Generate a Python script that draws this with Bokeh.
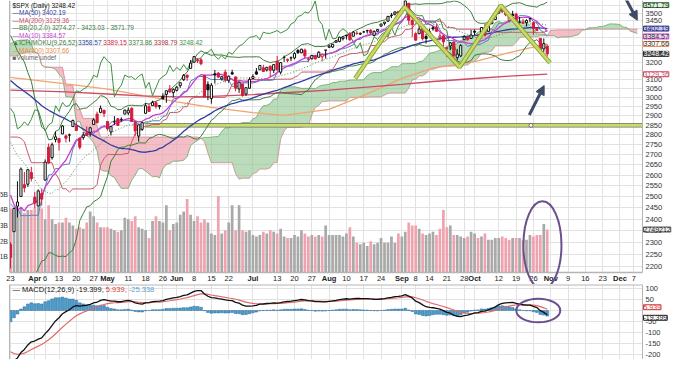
import numpy as np
import pandas as pd
from bokeh.plotting import figure
from bokeh.layouts import column
from bokeh.models import (Range1d, LinearScale, FixedTicker, Label, Arrow, NormalHead)
from bokeh.core.properties import value
from bokeh.embed import file_html
from bokeh.resources import INLINE

FONT = "Liberation Sans"

# ---------------- data ----------------
# $SPX closes before the visible window (Nov 18 2019 - Mar 20 2020), used by the indicators
pre_close = [3122, 3120, 3108, 3104, 3110, 3133, 3140, 3154, 3141,
             3113, 3093, 3113, 3117, 3146, 3136, 3133, 3142, 3169, 3169, 3191, 3192, 3191, 3206, 3221,
             3224, 3223, 3240, 3240, 3221, 3231,
             3258, 3235, 3246, 3237, 3253, 3275, 3265, 3289, 3283, 3289, 3317, 3330, 3321, 3321, 3326,
             3295, 3243, 3276, 3273, 3284, 3226,
             3249, 3298, 3334, 3345, 3328, 3352, 3358, 3379, 3374, 3380, 3370, 3386, 3373, 3338, 3226,
             3128, 3116, 2979, 2954,
             3090, 3003, 3130, 3024, 2972, 2747, 2882, 2741, 2481, 2711, 2386, 2529, 2398, 2409, 2305]

# visible daily candles, Mar 23 - Oct 30 2020
open_ = [2291, 2345, 2457, 2501, 2556, 2558, 2614,
         2498, 2458, 2515, 2578, 2738, 2686, 2776, 2782, 2805, 2795, 2799, 2843, 2846, 2784, 2787, 2810, 2813, 2854, 2909, 2918, 2930,
         2870, 2815, 2868, 2884, 2879, 2909, 2915, 2940, 2865, 2794, 2829, 2913, 2948, 2954, 2970, 2949, 3005, 3016, 3046, 3026,
         3038, 3064, 3098, 3123, 3163, 3199, 3213, 3213, 3123, 3072, 2993, 3131, 3136, 3102, 3141, 3095, 3138, 3114, 3046, 3074, 3018, 3050,
         3105, 3143, 3155, 3166, 3154, 3176, 3152, 3205, 3141, 3226, 3209, 3224, 3224, 3268, 3255, 3271, 3218, 3219, 3235, 3228, 3231, 3270,
         3288, 3289, 3318, 3323, 3340, 3357, 3370, 3355, 3372, 3368, 3381, 3388, 3392, 3360, 3386, 3418, 3435, 3449, 3486, 3494, 3509,
         3507, 3543, 3564, 3453, 3371, 3370, 3413, 3353, 3364, 3407, 3411, 3347, 3357, 3285, 3296, 3320, 3226, 3236, 3334, 3350, 3341,
         3386, 3339, 3368, 3409, 3385, 3434, 3459, 3500, 3534, 3515, 3453, 3493, 3494, 3439, 3440, 3439, 3464, 3441, 3404, 3342, 3278, 3294]
high = [2300, 2449, 2572, 2638, 2616, 2631, 2641,
        2522, 2534, 2538, 2677, 2756, 2761, 2818, 2782, 2851, 2801, 2807, 2880, 2868, 2785, 2815, 2844, 2842, 2887, 2922, 2955, 2930,
        2870, 2845, 2898, 2888, 2892, 2933, 2945, 2945, 2874, 2853, 2865, 2968, 2965, 2981, 2978, 2957, 3022, 3036, 3068, 3049,
        3063, 3081, 3131, 3129, 3212, 3233, 3223, 3223, 3124, 3089, 3079, 3154, 3141, 3120, 3156, 3121, 3155, 3115, 3086, 3074, 3054, 3112,
        3129, 3165, 3182, 3184, 3172, 3179, 3187, 3236, 3200, 3238, 3221, 3233, 3258, 3277, 3279, 3280, 3227, 3241, 3243, 3264, 3250, 3272,
        3303, 3307, 3331, 3352, 3352, 3364, 3381, 3387, 3387, 3378, 3388, 3395, 3399, 3391, 3399, 3432, 3444, 3482, 3501, 3510, 3514,
        3528, 3588, 3564, 3479, 3379, 3425, 3425, 3369, 3402, 3419, 3428, 3376, 3362, 3285, 3320, 3324, 3278, 3306, 3361, 3358, 3394,
        3397, 3370, 3409, 3432, 3426, 3447, 3483, 3549, 3534, 3527, 3489, 3515, 3502, 3476, 3464, 3461, 3466, 3441, 3409, 3343, 3342, 3305]
low = [2192, 2345, 2407, 2500, 2520, 2545, 2571,
       2447, 2455, 2459, 2575, 2657, 2676, 2762, 2721, 2805, 2761, 2765, 2842, 2820, 2727, 2775, 2794, 2791, 2854, 2860, 2913, 2893,
       2822, 2797, 2852, 2847, 2869, 2908, 2903, 2869, 2793, 2766, 2820, 2913, 2922, 2954, 2938, 2934, 2987, 2970, 3024, 2999,
       3032, 3052, 3091, 3091, 3164, 3196, 3194, 3181, 2999, 2984, 2965, 3076, 3109, 3093, 3083, 3081, 3125, 3033, 3024, 3004, 3007, 3047,
       3101, 3125, 3155, 3142, 3145, 3115, 3136, 3150, 3128, 3201, 3198, 3205, 3216, 3248, 3253, 3221, 3201, 3215, 3216, 3227, 3205, 3220,
       3285, 3284, 3317, 3318, 3329, 3335, 3327, 3355, 3363, 3362, 3379, 3371, 3369, 3354, 3380, 3413, 3422, 3444, 3468, 3485, 3494,
       3494, 3536, 3427, 3350, 3329, 3369, 3329, 3310, 3364, 3389, 3385, 3328, 3292, 3229, 3271, 3232, 3209, 3229, 3333, 3327, 3340,
       3362, 3324, 3367, 3354, 3385, 3428, 3458, 3499, 3500, 3480, 3441, 3483, 3419, 3435, 3433, 3415, 3441, 3364, 3388, 3269, 3259, 3233]
close = [2237, 2447, 2476, 2630, 2541, 2627, 2585,
         2471, 2527, 2489, 2664, 2659, 2750, 2790, 2762, 2846, 2783, 2800, 2875, 2823, 2737, 2799, 2798, 2837, 2878, 2863, 2940, 2912,
         2831, 2843, 2868, 2849, 2881, 2930, 2930, 2870, 2820, 2852, 2864, 2954, 2923, 2972, 2949, 2955, 2992, 3036, 3030, 3044,
         3056, 3081, 3123, 3112, 3194, 3232, 3207, 3190, 3002, 3041, 3067, 3125, 3113, 3115, 3098, 3118, 3131, 3050, 3084, 3009, 3053, 3100,
         3116, 3130, 3180, 3145, 3169, 3152, 3185, 3155, 3197, 3227, 3216, 3225, 3251, 3257, 3276, 3236, 3216, 3239, 3218, 3258, 3246, 3271,
         3295, 3306, 3327, 3349, 3351, 3360, 3333, 3380, 3373, 3373, 3381, 3390, 3375, 3385, 3397, 3431, 3443, 3479, 3485, 3508, 3500,
         3527, 3580, 3455, 3427, 3331, 3399, 3340, 3341, 3383, 3401, 3385, 3357, 3320, 3281, 3315, 3237, 3247, 3298, 3351, 3335, 3363,
         3380, 3348, 3409, 3361, 3419, 3447, 3477, 3535, 3512, 3489, 3483, 3484, 3427, 3443, 3436, 3453, 3465, 3401, 3391, 3271, 3310, 3248.42]
# volume, billions of shares
volume_b = [4.1, 4.0, 4.0, 4.1, 3.8, 4.0, 4.0, 4.1, 4.2, 4.1,
            3.4, 4.3, 3.4, 3.1, 3.2, 3.2, 3.5, 3.2, 3.0, 2.8,
            2.9, 2.8, 3.2, 3.9, 3.6, 3.2, 2.9, 2.9, 2.9, 2.8,
            2.7, 2.6, 2.7, 3.5, 3.4, 3.3, 3.6, 2.9, 2.8, 2.7,
            2.2, 3.3, 3.6, 3.3, 3.2, 4.3, 2.7, 3.1, 3.2, 3.7,
            3.9, 4.7, 3.7, 3.3, 3.6, 3.2, 3.4, 3.2, 2.5, 2.4,
            4.9, 2.5, 2.7, 3.2, 4.3, 2.7, 4.3, 2.7, 2.6, 2.7,
            2.4, 2.3, 2.4, 2.6, 2.5, 2.7, 2.6, 2.5, 2.8, 2.3,
            2.2, 2.2, 2.4, 2.3, 2.7, 2.5, 2.3, 2.4, 2.3, 2.4,
            2.3, 3.0, 2.4, 2.4, 2.4, 2.4, 2.3, 2.5, 2.9, 2.3,
            1.9, 1.8, 1.9, 1.7, 2.0, 1.8, 1.9, 2.2, 1.9, 1.9,
            2.3, 1.9, 2.5, 2.3, 2.6, 3.2, 3.0, 3.0, 2.8, 2.5,
            2.4, 2.5, 2.6, 2.4, 2.8, 4.0, 2.9, 3.0, 2.4, 2.4,
            2.3, 2.2, 2.3, 2.6, 2.5, 2.2, 2.3, 2.5, 2.1, 2.1,
            2.2, 2.2, 2.3, 2.2, 2.1, 2.2, 2.2, 2.2, 2.1, 2.1,
            2.4, 2.3, 2.4, 2.4, 3.1, 2.749]
# long moving averages
ma_dates = ["2020-03-23", "2020-04-15", "2020-05-01", "2020-05-15", "2020-06-01", "2020-06-15", "2020-07-01",
            "2020-07-15", "2020-08-03", "2020-08-17", "2020-09-01", "2020-09-15", "2020-10-01", "2020-10-15", "2020-10-30"]
ma200_vals = [3040, 3030, 3018, 3008, 3002, 3005, 3015, 3025, 3040, 3055, 3072, 3088, 3105, 3118, 3129.36]
ma100_vals = [3111, 3075, 3045, 3010, 2975, 2945, 2917, 2902, 2934, 3010, 3106, 3165, 3202, 3256, 3307.66]

tick_dates = ["2020-03-23", "2020-04-01", "2020-04-06", "2020-04-13", "2020-04-20", "2020-04-27", "2020-05-01",
              "2020-05-11", "2020-05-18", "2020-05-26", "2020-06-01", "2020-06-08", "2020-06-15", "2020-06-22",
              "2020-07-01", "2020-07-13", "2020-07-20", "2020-07-27", "2020-08-03", "2020-08-10", "2020-08-17",
              "2020-08-24", "2020-09-01", "2020-09-08", "2020-09-14", "2020-09-21", "2020-09-28", "2020-10-01",
              "2020-10-12", "2020-10-19", "2020-10-26", "2020-11-02", "2020-11-09", "2020-11-16", "2020-11-23",
              "2020-12-01", "2020-12-07"]
tick_labels = ["23", "Apr", "6", "13", "20", "27", "May", "11", "18", "26", "Jun", "8", "15", "22",
               "Jul", "13", "20", "27", "Aug", "10", "17", "24", "Sep", "8", "14", "21", "28", "Oct",
               "12", "19", "26", "Nov", "9", "16", "23", "Dec", "7"]
month_names = {"Apr", "May", "Jun", "Jul", "Aug", "Sep", "Oct", "Nov", "Dec"}
price_ticks = [2200, 2250, 2300, 2350, 2400, 2450, 2500, 2550, 2600, 2650, 2700, 2750, 2800, 2850,
               2900, 2950, 3000, 3050, 3100, 3200, 3450, 3500]
grid_prices = list(range(2200, 3600, 50))
vol_ticks = [1, 2, 3, 4, 5]
macd_ticks = [100, 50, -50, -100, -150, -200]

# ---------------- derived ----------------
holidays = pd.to_datetime(["2020-04-10", "2020-05-25", "2020-07-03", "2020-09-07", "2020-11-26"])
days = pd.bdate_range("2020-03-23", "2020-12-15")
days = days[~days.isin(holidays)]
pos = {d: i for i, d in enumerate(days)}
def ix(d):
    return pos[pd.Timestamp(d)]

N = len(close)
NP = len(pre_close)
x = np.arange(N)
o = np.array(open_, float); h = np.array(high, float); l = np.array(low, float); c = np.array(close, float)
fc = np.array(pre_close + close, float)
fh = np.array(pre_close + high, float)
fl = np.array(pre_close + low, float)
s = pd.Series(fc)
ma10 = s.rolling(10).mean().values[NP:]
ma50 = s.rolling(50).mean().values[NP:]
mid20 = s.rolling(20).mean().values[NP:]
sd20 = s.rolling(20).std(ddof=0).values[NP:]
bbu, bbl = mid20 + 2 * sd20, mid20 - 2 * sd20
ema12 = s.ewm(span=12, adjust=False).mean(); ema26 = s.ewm(span=26, adjust=False).mean()
macd_l = (ema12 - ema26); sig = macd_l.ewm(span=9, adjust=False).mean()
hist = (macd_l - sig).values[NP:]; macd_v = macd_l.values[NP:]; sig_v = sig.values[NP:]
hs, ls = pd.Series(fh), pd.Series(fl)
def midline(n):
    return ((hs.rolling(n).max() + ls.rolling(n).min()) / 2).values
tenkan, kijun, spanB_full = midline(9), midline(26), midline(52)
spanA_full = (tenkan + kijun) / 2
fx = np.arange(len(fc)) - NP
cx = fx + 26
m = (cx >= -1) & ~np.isnan(spanB_full)
cx, sa, sb = cx[m], spanA_full[m], spanB_full[m]
prev = fc[NP - 1:-1]
down = c < prev
ccol = np.where(down, "#d41c3c", "#111111")
cfill = np.where(c < o, ccol, "white")
vcol = np.where(down, "#eea3ae", "#a9a9a9")

# ---------------- geometry ----------------
XL, XR = -0.3, 182.5          # data area of the panels
PXU = 633.0 / (XR - XL)       # px per trading day
X0, X1 = XL - 9 / PXU, XR + 35 / PXU   # frame also holds the side scales
AX = "#b5b5b5"
FH = 272.0                    # px of the price/volume area
STRIP = 12.0                  # px of the date strip under it
YMIN, YMAX = 2176, 3582
LNR = np.log(YMAX / YMIN)
YBOT = float(np.exp(np.log(YMIN) - STRIP * LNR / FH))
VMAX = 17.4
VBOT = -STRIP * VMAX / FH

def side_panels(fig, y0, y1, yr="default"):
    fig.quad(left=[X0, XR], right=[XL, X1], bottom=[y0, y0], top=[y1, y1], y_range_name=yr,
             fill_color="white", line_color=None)
    fig.segment(x0=[XL, XR], y0=[y0, y0], x1=[XL, XR], y1=[y1, y1], y_range_name=yr,
                line_color=AX, line_width=1)

def axis_text(fig, ys, labels, yr="default", fs="7.5px"):
    fig.text(x=[XR] * len(ys), y=ys, text=labels, x_offset=3, y_range_name=yr, text_font=value(FONT),
             text_font_size=fs, text_color="#333333", text_baseline="middle", text_align="left")

# ---------------- main panel ----------------
main = figure(width=677, height=int(FH + STRIP), x_range=Range1d(X0, X1), y_range=Range1d(YBOT, YMAX),
              y_axis_type="log", y_axis_location=None, x_axis_location=None, output_backend="svg",
              toolbar_location=None, min_border_left=0, min_border_right=0, min_border_top=0, min_border_bottom=0)
main.extra_y_ranges = {"vol": Range1d(VBOT, VMAX)}
main.extra_y_scales = {"vol": LinearScale()}
main.outline_line_color = None

xt = [ix(d) for d in tick_dates]
main.xgrid.ticker = FixedTicker(ticks=xt)
main.ygrid.ticker = FixedTicker(ticks=grid_prices)
main.xgrid.grid_line_color = "#e2e2e2"
main.ygrid.grid_line_color = "#e2e2e2"

# volume
main.vbar(x=x, width=0.78, top=volume_b, bottom=0, y_range_name="vol", fill_color=vcol, line_color=None)
# ichimoku cloud
main.varea(x=cx, y1=sb, y2=np.maximum(sa, sb), fill_color="#8cc48c", fill_alpha=0.6)
main.varea(x=cx, y1=sa, y2=np.maximum(sa, sb), fill_color="#eea3ae", fill_alpha=0.7)
main.line(cx, sa, line_color="#6aa86a", line_width=0.8)
main.line(cx, sb, line_color="#d08890", line_width=0.8)
# horizontal support line
main.segment(x0=[38.9], y0=[2850], x1=[XR], y1=[2850], line_color="#6f6f6f", line_width=4.5)
main.segment(x0=[38.9], y0=[2850], x1=[XR], y1=[2850], line_color="#c9de6a", line_width=3)
main.scatter(x=[150.3], y=[2850], size=4, marker="circle", fill_color="white", line_color="#666666")
# indicator lines
ma_x = [ix(d) for d in ma_dates]
main.line(ma_x, ma100_vals, line_color="#f2a46e", line_width=1.3)
main.line(ma_x, ma200_vals, line_color="#cf4a66", line_width=1.3)
main.line(x[26:] - 26, c[26:], line_color="#3f8f3f", line_width=1)           # lagging span
main.line(x, kijun[NP:], line_color="#c85a6a", line_width=1)
main.line(x, tenkan[NP:], line_color="#5a7fc0", line_width=1)
main.line(x, bbu, line_color="#3d7d3d", line_width=1)
main.line(x, bbl, line_color="#3d7d3d", line_width=1)
main.line(x, mid20, line_color="#4f8f4f", line_width=1, line_dash="1 2")
main.line(x, ma50, line_color="#2e3f9e", line_width=1.3)
main.line(x, ma10, line_color="#c63fd2", line_width=1.3)
# candles
main.segment(x0=x, y0=l, x1=x, y1=h, line_color=ccol, line_width=1)
main.vbar(x=x, width=0.62, top=np.maximum(o, c), bottom=np.minimum(o, c), fill_color=cfill, line_color=ccol, line_width=1)

# hand drawn annotations
zig_x = [99.5, 113.8, 129.7, 141.6, 155.8]
zig_p = [3105, 3540, 3170, 3550, 3195]
main.line(zig_x, zig_p, line_color="#8fa23a", line_width=4.5)
main.line(zig_x, zig_p, line_color="#c6dc66", line_width=2.5)
ARROW = "#3e4b66"
main.add_layout(Arrow(end=NormalHead(size=9, fill_color=ARROW, line_color=ARROW),
                      x_start=149.8, y_start=2904, x_end=154.1, y_end=3065, line_color=ARROW, line_width=3))
main.add_layout(Arrow(end=NormalHead(size=9, fill_color=ARROW, line_color=ARROW),
                      x_start=176.6, y_start=3640, x_end=181.0, y_end=3455, line_color=ARROW, line_width=3))

# side scales and date strip
side_panels(main, 0, VMAX, yr="vol")
main.quad(left=[X0], right=[X1], bottom=[VBOT], top=[0], y_range_name="vol", fill_color="white", line_color=None)
main.segment(x0=[XL], y0=[0], x1=[XR], y1=[0], y_range_name="vol", line_color=AX, line_width=1.5)
axis_text(main, price_ticks, [str(t) for t in price_ticks])
main.text(x=[XL] * len(vol_ticks), y=vol_ticks, text=[f"{v}B" for v in vol_ticks], x_offset=-1.5,
          y_range_name="vol", text_font=value(FONT), text_font_size="7px", text_color="#333333",
          text_baseline="middle", text_align="right")
ymid = VBOT / 2
for bold in (False, True):
    sel = [(t, lab) for t, lab in zip(xt, tick_labels) if (lab in month_names) == bold]
    main.text(x=[t for t, _ in sel], y=[ymid] * len(sel), text=[lab for _, lab in sel], y_range_name="vol",
              text_font=value(FONT), text_font_size="7.5px", text_color="#222222",
              text_font_style="bold" if bold else "normal", text_baseline="middle", text_align="center")
main.ellipse(x=[153.6], y=[1.75], width=11, height=5.6, y_range_name="vol",
             fill_color=None, line_color="#6b4f8f", line_width=2)

# legend
def price_at(off):
    return float(np.exp(np.log(YMAX) - off * LNR / FH))
W = {ch: 0.556 for ch in "0123456789$"}
W.update({'.': 0.278, ',': 0.278, ' ': 0.278, '-': 0.333, '(': 0.333, ')': 0.333, 'I': 0.278, 'M': 0.833,
          'A': 0.667, 'B': 0.667, 'C': 0.722, 'D': 0.722, 'H': 0.722, 'K': 0.667, 'O': 0.778, 'U': 0.722,
          'V': 0.667, 'X': 0.667, 'P': 0.667, 'S': 0.667, '—': 1.0, 'y': 0.5, 'i': 0.222, 'l': 0.222,
          'f': 0.278, 'r': 0.333, '▲': 0.8, '■': 0.7})
def tw(t, fs):
    return sum(W.get(ch, 0.556) for ch in t) * fs
LFS = 6.5
legend_rows = [
    [("$SPX (Daily) 3248.42", "#111111")],
    [("—MA(50) 3402.19", "#2e3f9e")],
    [("—MA(200) 3129.36", "#cf4a66")],
    [("—BB(20,2.0) 3274.27 - 3423.03 - 3571.79", "#3d7d3d")],
    [("—MA(10) 3384.57", "#c63fd2")],
    [("▲ICHIMOKU(9,26,52) ", "#3d7d3d"), ("3358.57 ", "#2e3f9e"), ("3389.15 ", "#d41c3c"),
     ("3373.86 ", "#3d7d3d"), ("3398.79 ", "#b03040"), ("3248.42", "#3f8f3f")],
    [("—MA(100) 3307.66", "#f08a4a")],
    [("■Volume undef", "#666666")],
]
for k, row in enumerate(legend_rows):
    xo = 3
    for txt, col in row:
        main.add_layout(Label(x=XL, y=price_at(4.5 + 7.5 * k), x_offset=xo, text=txt, text_color=col,
                              text_font=FONT, text_font_size=f"{LFS}px", text_baseline="middle",
                              text_align="left"))
        xo += tw(txt, LFS)

# value tags on the right scale
def tag(fig, yv, txt, col, bg="white", tc=None, yoff=0, yr="default"):
    fig.add_layout(Label(x=XR, y=yv, x_offset=1, y_offset=yoff, y_range_name=yr, text=txt,
                         text_color=tc or col, text_font=FONT, text_font_size="7px",
                         text_baseline="middle", text_align="left", background_fill_color=bg,
                         border_line_color=col, border_line_width=1))
tag(main, 3571.79, "3571.79", "#3d7d3d", bg="#e3f0e3", tc="#222222", yoff=-3)
tag(main, 3402.19, "3402.19", "#2e3f9e", bg="#c9c5ee", tc="#1b1b5e")
tag(main, 3384.57, "3384.57", "#c63fd2", bg="#f3d6f6", tc="#333333", yoff=-5)
tag(main, 3307.66, "3307.66", "#f08a4a", tc="#333333")
tag(main, 3248.42, "3248.42", "#222222", bg="#444444", tc="white")
tag(main, 3129.36, "3129.36", "#cf4a66", tc="#cf4a66")
tag(main, 2.749, "2749212", "#555555", bg="#eeeeee", tc="#222222", yr="vol")

# ---------------- MACD panel ----------------
MY0, MY1 = -222, 118
MH = 75
macd = figure(width=677, height=MH, x_range=main.x_range, y_range=Range1d(MY0, MY1),
              y_axis_location=None, x_axis_location=None, output_backend="svg", toolbar_location=None,
              min_border_left=0, min_border_right=0, min_border_top=0, min_border_bottom=0)
macd.outline_line_color = None
macd.xgrid.ticker = FixedTicker(ticks=xt)
macd.ygrid.ticker = FixedTicker(ticks=[100, 50, 0, -50, -100, -150, -200])
macd.xgrid.grid_line_color = "#e2e2e2"
macd.ygrid.grid_line_color = "#e2e2e2"
macd.vbar(x=x, width=0.8, top=hist, bottom=0, fill_color="#4d9dd0", line_color="#2a6a96", line_width=0.5)
macd.line(x, sig_v, line_color="#e06a6a", line_width=1.2)
macd.line(x, macd_v, line_color="#111111", line_width=1.3)
macd.ellipse(x=[152.4], y=[0], width=12.7, height=107, fill_color=None, line_color="#6b4f8f", line_width=2)
side_panels(macd, MY0, MY1)
macd.segment(x0=[XL], y0=[MY1], x1=[XR], y1=[MY1], line_color=AX, line_width=2)
axis_text(macd, macd_ticks, [str(t) for t in macd_ticks])
ppu = MH / (MY1 - MY0)
xo = 3
for txt, col in [("— MACD(12,26,9) -19.399, ", "#111111"), ("5.939, ", "#d43c3c"), ("-25.338", "#5aa0d0")]:
    macd.add_layout(Label(x=XL, y=MY1 - 5 / ppu, x_offset=xo, text=txt, text_color=col, text_font=FONT,
                          text_font_size="7.5px", text_baseline="middle", text_align="left"))
    xo += tw(txt, 7.5)
tag(macd, 5.939, "5.939", "#d43c3c", tc="#d43c3c", yoff=2)
tag(macd, -19.399, "-19.399", "#222222", tc="#222222", yoff=-3)

layout = column(main, macd, spacing=0)
open("out.html", "w").write(file_html(layout, INLINE))
